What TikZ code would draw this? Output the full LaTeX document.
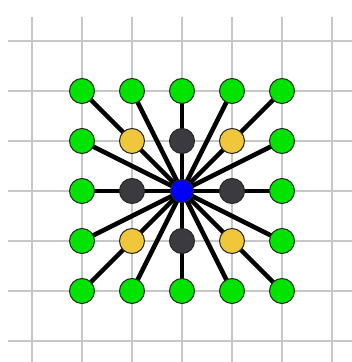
\documentclass[tikz,border=0pt]{standalone}
\definecolor{ringgreen}{RGB}{0,228,0}
\definecolor{diaggold}{RGB}{240,198,58}
\definecolor{axisgray}{RGB}{58,58,64}
\definecolor{hubblue}{RGB}{0,0,250}
\tikzset{
  gridline/.style={draw=black!22, line width=1.7pt},
  spoke/.style={line width=2.6pt},
  dot/.style={circle, draw=black!85, line width=0.6pt, minimum size=0.5cm, inner sep=0pt}
}
\begin{document}
\begin{tikzpicture}
  \useasboundingbox (-3.64,-3.42) rectangle (3.40,3.82);
  % 背景网格
  \foreach \i in {-3,...,3} {
    \draw[gridline] (\i,-3.42) -- (\i,3.48);
    \draw[gridline] (-3.48,\i) -- (3.40,\i);
  }
  % 5x5 格点
  \foreach \i in {1,...,5} {
    \foreach \j in {1,...,5} {
      \coordinate (P\i\j) at (\i-3,3-\j);
    }
  }
  % 中心到外圈的连线
  \foreach \n in {11,21,31,41,51,12,52,13,53,14,54,15,25,35,45,55} {
    \draw[spoke] (P33) -- (P\n);
  }
  % 外圈绿点
  \foreach \n in {11,21,31,41,51,12,52,13,53,14,54,15,25,35,45,55} {
    \node[dot, fill=ringgreen] (g\n) at (P\n) {};
  }
  % 内圈：对角黄点、轴向灰点
  \foreach \n in {22,42,24,44} {
    \node[dot, fill=diaggold] (y\n) at (P\n) {};
  }
  \foreach \n in {32,23,43,34} {
    \node[dot, fill=axisgray] (d\n) at (P\n) {};
  }
  \node[dot, fill=hubblue, minimum size=0.46cm] (hub) at (P33) {};
\end{tikzpicture}
\end{document}
